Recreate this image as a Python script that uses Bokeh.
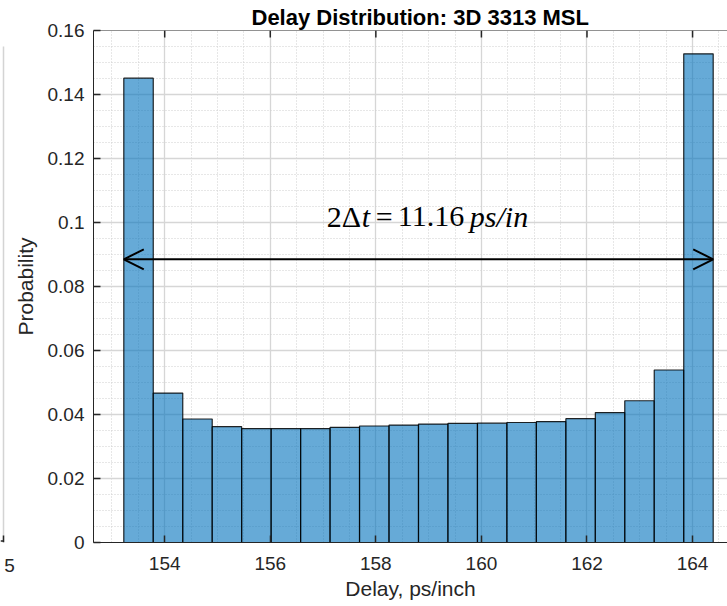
from bokeh.plotting import figure
from bokeh.layouts import row
from bokeh.models import Range1d, FixedTicker, Arrow, OpenHead, Label, Span
from bokeh.embed import file_html
from bokeh.resources import INLINE

# ---------------- data ----------------
bin_edges = [153.225, 153.783, 154.342, 154.900, 155.458, 156.017, 156.575,
             157.133, 157.691, 158.250, 158.808, 159.366, 159.925, 160.483,
             161.041, 161.600, 162.158, 162.716, 163.274, 163.833, 164.391]
probability = [0.1451, 0.0467, 0.0386, 0.0362, 0.0356, 0.0356, 0.0356, 0.0360,
               0.0364, 0.0367, 0.0370, 0.0372, 0.0373, 0.0375, 0.0378,
               0.0387, 0.0406, 0.0443, 0.0539, 0.1527]
x_ticks = [154, 156, 158, 160, 162, 164]
x_minor_ticks = [152.5, 153, 153.5, 154.5, 155, 155.5, 156.5, 157, 157.5,
                 158.5, 159, 159.5, 160.5, 161, 161.5, 162.5, 163, 163.5,
                 164.5, 165]
y_ticks = [0, 0.02, 0.04, 0.06, 0.08, 0.1, 0.12, 0.14, 0.16]
y_tick_labels = ["0", "0.02", "0.04", "0.06", "0.08", "0.1", "0.12", "0.14", "0.16"]
y_minor_ticks = [0.005, 0.01, 0.015, 0.025, 0.03, 0.035, 0.045, 0.05, 0.055,
                 0.065, 0.07, 0.075, 0.085, 0.09, 0.095, 0.105, 0.11, 0.115,
                 0.125, 0.13, 0.135, 0.145, 0.15, 0.155]
span_y = 0.0885
title_text = "Delay Distribution: 3D 3313 MSL"
x_label = "Delay, ps/inch"
y_label = "Probability"
neighbor_tick = [9]
neighbor_label = {9: "5"}

AX = "#262626"
FONT = "Liberation Sans"
LEFT_W = 15
OVERLAP = 5

p = figure(width=727 - LEFT_W + OVERLAP, height=606,
           x_range=Range1d(152.651, 164.662), y_range=Range1d(0, 0.16),
           output_backend="svg", toolbar_location=None,
           min_border_left=92 - LEFT_W + OVERLAP, min_border_right=0,
           min_border_top=30, min_border_bottom=64,
           margin=(0, 0, 0, -OVERLAP))
p.outline_line_color = None
p.background_fill_color = "white"
p.border_fill_color = None

xt = FixedTicker(ticks=x_ticks, minor_ticks=x_minor_ticks)
yt = FixedTicker(ticks=y_ticks, minor_ticks=y_minor_ticks)

for g, t in ((p.xgrid, xt), (p.ygrid, yt)):
    g.ticker = t
    g.grid_line_color = "#d6d6d6"
    g.grid_line_width = 1.3
    g.minor_grid_line_color = "#cfcfcf"
    g.minor_grid_line_dash = "1 2"
    g.minor_grid_line_width = 1

for ax, t in ((p.xaxis[0], xt), (p.yaxis[0], yt)):
    ax.ticker = t
    ax.axis_line_color = AX
    ax.axis_line_width = 1
    ax.major_tick_in = 7
    ax.major_tick_out = 0
    ax.major_tick_line_color = AX
    ax.major_tick_line_width = 1.5
    ax.minor_tick_line_color = None
    ax.major_label_text_font = FONT
    ax.major_label_text_font_size = "19px"
    ax.major_label_text_color = AX
    ax.axis_label_text_font = FONT
    ax.axis_label_text_font_size = "21px"
    ax.axis_label_text_font_style = "normal"
    ax.axis_label_text_color = AX

p.xaxis.axis_label = x_label
p.yaxis.axis_label = y_label
p.xaxis.major_label_standoff = 10
p.xaxis.axis_label_standoff = 4
p.yaxis.major_label_standoff = 5
p.yaxis.axis_label_standoff = 8
p.yaxis.major_label_overrides = {v: s for v, s in zip(y_ticks, y_tick_labels)}

# top box edge with inward ticks
p.add_layout(Span(location=y_ticks[-1], dimension="width", line_color=AX, line_width=1))
p.segment(x0=x_ticks, y0=[y_ticks[-1]] * len(x_ticks),
          x1=x_ticks, y1=[y_ticks[-1] - 0.0022] * len(x_ticks),
          line_color=AX, line_width=1.5)

p.title.text = title_text
p.title.text_font = FONT
p.title.text_font_size = "22px"
p.title.text_font_style = "bold"
p.title.text_color = "black"
p.title.align = "left"
p.title.offset = 158
p.title.standoff = 2

p.quad(left=bin_edges[:-1], right=bin_edges[1:], bottom=0, top=probability,
       fill_color="#0072BD", fill_alpha=0.6,
       line_color="black", line_width=1.2, line_alpha=0.85)

p.add_layout(Arrow(start=OpenHead(size=20, line_width=2, line_color="black"),
                   end=OpenHead(size=20, line_width=2, line_color="black"),
                   x_start=bin_edges[0], x_end=bin_edges[-1],
                   y_start=span_y, y_end=span_y,
                   line_width=2, line_color="black"))

pieces = [("2\u0394", "normal", -49), ("t", "italic", -14), ("=", "normal", 0),
          ("11.16", "normal", 22), ("ps/in", "italic", 94)]
for txt, style, off in pieces:
    p.add_layout(Label(x=158, y=0.102, x_offset=off, text=txt,
                       text_font="Liberation Serif", text_font_size="30px",
                       text_font_style=style, text_color="black",
                       text_align="left", text_baseline="alphabetic"))

# ---------------- fragment of the neighbouring panel ----------------
q = figure(width=LEFT_W, height=606, x_range=Range1d(0, LEFT_W), y_range=Range1d(0, 0.16),
           output_backend="svg", toolbar_location=None,
           min_border_left=0, min_border_right=0,
           min_border_top=30, min_border_bottom=64)
q.outline_line_color = None
q.background_fill_color = "white"
q.border_fill_color = "white"
q.xgrid.visible = False
q.ygrid.visible = False
q.yaxis.visible = False
q.xaxis.ticker = FixedTicker(ticks=neighbor_tick)
q.xaxis.major_label_overrides = neighbor_label
q.xaxis.axis_line_color = None
q.xaxis.major_tick_line_color = None
q.xaxis.minor_tick_line_color = None
q.xaxis.major_label_text_font = FONT
q.xaxis.major_label_text_font_size = "19px"
q.xaxis.major_label_text_color = AX
q.xaxis.major_label_standoff = 10
q.segment(x0=[3], y0=[0], x1=[3], y1=[0.155], line_color="#d4d4d4", line_width=1.5)
q.segment(x0=[0, 3], y0=[0.0005, 0], x1=[3, 3], y1=[0.0005, 0.0022],
          line_color=AX, line_width=1.5)

layout = row(q, p, spacing=0)
open("out.html", "w").write(file_html(layout, INLINE))
